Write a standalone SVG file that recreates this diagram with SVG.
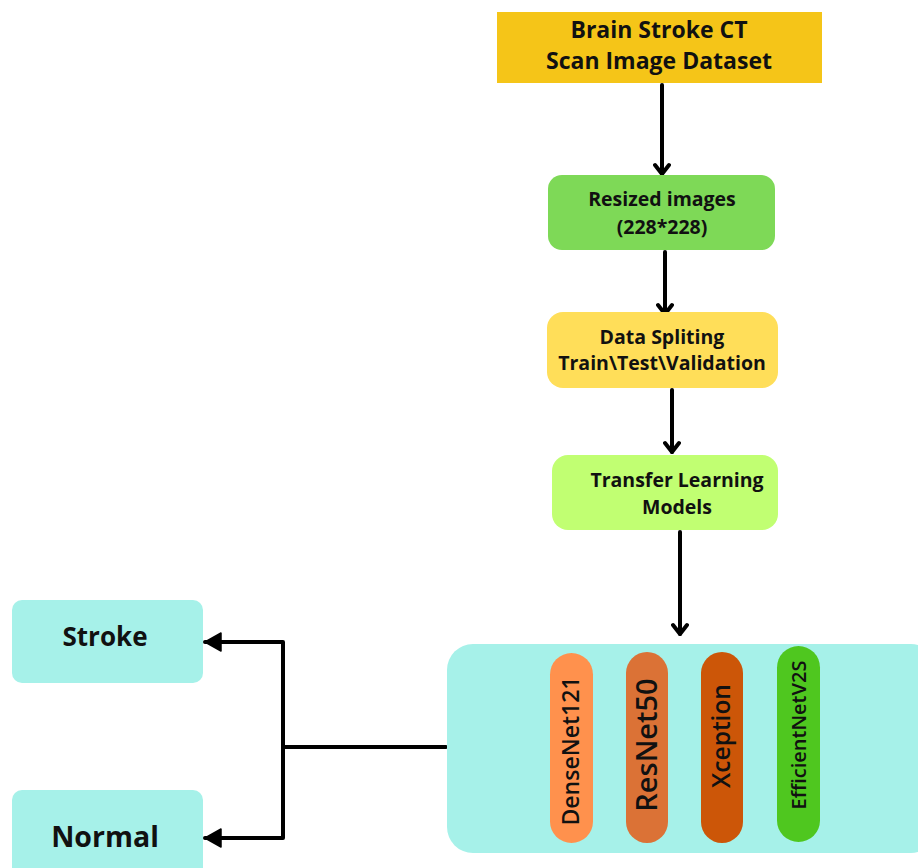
<svg xmlns="http://www.w3.org/2000/svg" width="918" height="868" viewBox="0 0 918 868">
<defs>
<style>
.t{font-family:"Open Sans","Liberation Sans",sans-serif;font-weight:700;fill:#111;text-anchor:middle}
.p{font-family:"Open Sans","Liberation Sans",sans-serif;font-weight:600;fill:#111;text-anchor:middle}
.c{fill:none;stroke:#000;stroke-width:4;stroke-linecap:round;stroke-linejoin:round}
</style>
<marker id="down" viewBox="0 0 14 18" refX="12" refY="9" markerWidth="14" markerHeight="18" markerUnits="userSpaceOnUse" orient="auto">
<path d="M3,2 L12,9 L3,16" fill="none" stroke="#000" stroke-width="4" stroke-linecap="round" stroke-linejoin="round"/>
</marker>
<marker id="tri" viewBox="0 0 18 20" refX="17" refY="10" markerWidth="18" markerHeight="20" markerUnits="userSpaceOnUse" orient="auto">
<path d="M1,1 L17,10 L1,19 Z" fill="#000" stroke="#000" stroke-width="1.5" stroke-linejoin="round"/>
</marker>
</defs>
<rect width="918" height="868" fill="#fff"/>

<g id="connectors">
<path class="c" d="M662,85 V174" marker-end="url(#down)"/>
<path class="c" d="M665,252 V314" marker-end="url(#down)"/>
<path class="c" d="M672,390 V452" marker-end="url(#down)"/>
<path class="c" d="M680,532 V634" marker-end="url(#down)"/>
<path class="c" d="M446,747 H283"/>
<path class="c" d="M283,747 V642 H205" marker-end="url(#tri)"/>
<path class="c" d="M283,747 V838 H205" marker-end="url(#tri)"/>
</g>

<g id="dataset">
<rect x="497" y="12" width="325" height="71" fill="#F5C518"/>
<text class="t" x="659" y="38" font-size="23">Brain Stroke CT</text>
<text class="t" x="659" y="69" font-size="23">Scan Image Dataset</text>
</g>

<g id="resized">
<rect x="548" y="175" width="227" height="75" rx="14" fill="#7ED957"/>
<text class="t" x="662" y="206" font-size="19.5">Resized images</text>
<text class="t" x="662" y="234" font-size="19.5">(228*228)</text>
</g>

<g id="splitting">
<rect x="547" y="312" width="231" height="76" rx="16" fill="#FFDE59"/>
<text class="t" x="662" y="344" font-size="19.5">Data Spliting</text>
<text class="t" x="662" y="370" font-size="19.5">Train\Test\Validation</text>
</g>

<g id="transfer">
<rect x="552" y="455" width="226" height="75" rx="16" fill="#C1FF72"/>
<text class="t" x="677" y="487" font-size="19.5">Transfer Learning</text>
<text class="t" x="677" y="514" font-size="19.5">Models</text>
</g>

<g id="models">
<rect x="447" y="644" width="490" height="209" rx="26" fill="#A6F1E9"/>
<g id="densenet">
<rect x="550" y="653" width="43" height="190" rx="21.5" fill="#FF914D"/>
<text class="p" font-size="23" transform="translate(579,751) rotate(-90)">DenseNet121</text>
</g>
<g id="resnet">
<rect x="626" y="652" width="42" height="191" rx="21" fill="#DB7236"/>
<text class="p" font-size="29" transform="translate(657,745) rotate(-90)">ResNet50</text>
</g>
<g id="xception">
<rect x="701" y="652" width="42" height="191" rx="21" fill="#CC5608"/>
<text class="p" font-size="24.5" transform="translate(730,736) rotate(-90)">Xception</text>
</g>
<g id="efficientnet">
<rect x="777" y="646" width="43" height="196" rx="21.5" fill="#4FC71F"/>
<text class="p" font-size="20" transform="translate(806,735) rotate(-90)">EfficientNetV2S</text>
</g>
</g>

<g id="stroke">
<rect x="12" y="600" width="191" height="83" rx="10" fill="#A6F1E9"/>
<text class="t" x="105" y="646" font-size="26">Stroke</text>
</g>

<g id="normal">
<rect x="12" y="790" width="191" height="90" rx="10" fill="#A6F1E9"/>
<text class="t" x="105" y="847" font-size="28.5">Normal</text>
</g>
</svg>
